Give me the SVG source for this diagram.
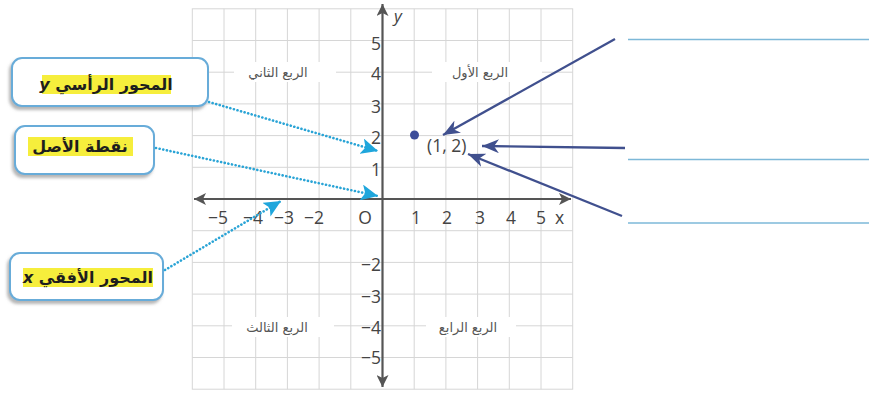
<svg xmlns="http://www.w3.org/2000/svg" width="869" height="396" viewBox="0 0 869 396">
<style>
.grid{stroke:#d6d6d6;stroke-width:1;fill:none}
.axis{stroke:#555;stroke-width:2.2;fill:none}
.num{font-family:"Open Sans","DejaVu Sans",sans-serif;font-size:17.5px;fill:#444}
.quad{font-family:"DejaVu Sans",sans-serif;font-size:13px;fill:#555;direction:rtl}
.lbl{font-family:"DejaVu Sans",sans-serif;font-size:16px;font-weight:bold;fill:#1e1e1e;direction:rtl}
.box{fill:#fff;stroke:#68acd9;stroke-width:2}
.hl{fill:#f6ee3c}
.dark{stroke:#40508e;stroke-width:2.3;fill:none}
.cyan{stroke:#2aa4d6;stroke-width:2.6;fill:none;stroke-dasharray:0.1 3.6;stroke-linecap:round}
.blank{stroke:#7db8d8;stroke-width:1.3}
</style>
<defs>
<marker id="ah" markerUnits="userSpaceOnUse" markerWidth="20" markerHeight="14" refX="17" refY="7" orient="auto">
<path d="M0,0 L17,7 L0,14 L5,7 z" fill="#40508e"/>
</marker>
<marker id="ahc" markerUnits="userSpaceOnUse" markerWidth="20" markerHeight="16" refX="17" refY="8" orient="auto">
<path d="M0,0 L17,8 L0,16 L4,8 z" fill="#1fa6dc"/>
</marker>
<marker id="axa" markerUnits="userSpaceOnUse" markerWidth="14" markerHeight="12" refX="12" refY="6" orient="auto-start-reverse">
<path d="M0,0 L12,6 L0,12 L3,6 z" fill="#555"/>
</marker>
<filter id="sh" x="-20%" y="-20%" width="140%" height="150%">
<feDropShadow dx="-2" dy="3" stdDeviation="1.8" flood-color="#7a7a7a" flood-opacity="0.55"/>
</filter>
</defs>

<g id="grid">
<rect class="grid" x="192.3" y="8.8" width="380.4" height="380.4"/>
<path class="grid" d="M224,8.8V389.2M255.7,8.8V389.2M287.4,8.8V389.2M319.1,8.8V389.2M350.8,8.8V389.2M414.2,8.8V389.2M445.9,8.8V389.2M477.6,8.8V389.2M509.3,8.8V389.2M541,8.8V389.2"/>
<path class="grid" d="M192.3,40.5H572.7M192.3,72.2H572.7M192.3,103.9H572.7M192.3,135.6H572.7M192.3,167.3H572.7M192.3,230.7H572.7M192.3,262.4H572.7M192.3,294.1H572.7M192.3,325.8H572.7M192.3,357.5H572.7"/>
</g>

<g id="quadrants">
<rect x="234" y="62" width="102" height="20" fill="#fff"/>
<text class="quad" x="278" y="77" text-anchor="middle">الربع الثاني</text>
<rect x="432" y="62" width="110" height="20" fill="#fff"/>
<text class="quad" x="480" y="77" text-anchor="middle">الربع الأول</text>
<rect x="232" y="317" width="102" height="20" fill="#fff"/>
<text class="quad" x="277" y="332" text-anchor="middle">الربع الثالث</text>
<rect x="426" y="317" width="90" height="20" fill="#fff"/>
<text class="quad" x="468" y="332" text-anchor="middle">الربع الرابع</text>
</g>

<g id="axes">
<line class="axis" x1="194" y1="199" x2="571" y2="199" marker-start="url(#axa)" marker-end="url(#axa)"/>
<line class="axis" x1="382.5" y1="387" x2="382.5" y2="4" marker-start="url(#axa)" marker-end="url(#axa)"/>
<text x="394" y="22" font-family="'Open Sans','DejaVu Sans',sans-serif" font-size="17" font-style="italic" fill="#444">y</text>
<text class="num" x="555" y="224">x</text>
</g>

<g id="ticks">
<text class="num" x="381" y="50" text-anchor="end">5</text>
<text class="num" x="381" y="80" text-anchor="end">4</text>
<text class="num" x="381" y="113" text-anchor="end">3</text>
<text class="num" x="381" y="144" text-anchor="end">2</text>
<text class="num" x="381" y="176" text-anchor="end">1</text>
<text class="num" x="381" y="271" text-anchor="end">−2</text>
<text class="num" x="381" y="303" text-anchor="end">−3</text>
<text class="num" x="381" y="334" text-anchor="end">−4</text>
<text class="num" x="381" y="364" text-anchor="end">−5</text>
<text class="num" x="228" y="224" text-anchor="end">−5</text>
<text class="num" x="263" y="224" text-anchor="end">−4</text>
<text class="num" x="294" y="224" text-anchor="end">−3</text>
<text class="num" x="324" y="224" text-anchor="end">−2</text>
<text class="num" x="365" y="224" text-anchor="middle">O</text>
<text class="num" x="416" y="224" text-anchor="middle">1</text>
<text class="num" x="447" y="224" text-anchor="middle">2</text>
<text class="num" x="480" y="224" text-anchor="middle">3</text>
<text class="num" x="511" y="224" text-anchor="middle">4</text>
<text class="num" x="541" y="224" text-anchor="middle">5</text>
</g>

<g id="point">
<circle cx="414.5" cy="135" r="4.5" fill="#3d4d9a"/>
<text class="num" x="427" y="152" font-size="18.5">(1, 2)</text>
</g>

<g id="blanks">
<line class="blank" x1="628" y1="39.5" x2="869" y2="39.5"/>
<line class="blank" x1="628" y1="159.5" x2="869" y2="159.5"/>
<line class="blank" x1="628" y1="223" x2="869" y2="223"/>
</g>

<g id="box-y">
<rect class="box" x="12" y="58" width="196" height="48" rx="10" filter="url(#sh)"/>
<rect class="hl" x="42" y="75" width="129" height="19"/>
<text class="lbl" x="106" y="90" text-anchor="middle">المحور الرأسي <tspan font-style="italic">y</tspan></text>
</g>

<g id="box-origin">
<rect class="box" x="15" y="126" width="139" height="48" rx="10" filter="url(#sh)"/>
<rect class="hl" x="28" y="137" width="105" height="19"/>
<text class="lbl" x="80" y="152" text-anchor="middle">نقطة الأصل</text>
</g>

<g id="box-x">
<rect class="box" x="10" y="253" width="153" height="47" rx="10" filter="url(#sh)"/>
<rect class="hl" x="23" y="268" width="130" height="19"/>
<text class="lbl" x="88" y="283" text-anchor="middle">المحور الأفقي <tspan font-style="italic">x</tspan></text>
</g>

<g id="connectors">
<line class="cyan" x1="209" y1="102" x2="378" y2="151" marker-end="url(#ahc)"/>
<line class="cyan" x1="156" y1="148" x2="378" y2="196" marker-end="url(#ahc)"/>
<line class="cyan" x1="165" y1="270" x2="281" y2="201" marker-end="url(#ahc)"/>
<line class="dark" x1="615" y1="39" x2="443" y2="135" marker-end="url(#ah)"/>
<line class="dark" x1="625" y1="148" x2="482" y2="146" marker-end="url(#ah)"/>
<line class="dark" x1="622" y1="216" x2="468" y2="154" marker-end="url(#ah)"/>
</g>
</svg>
